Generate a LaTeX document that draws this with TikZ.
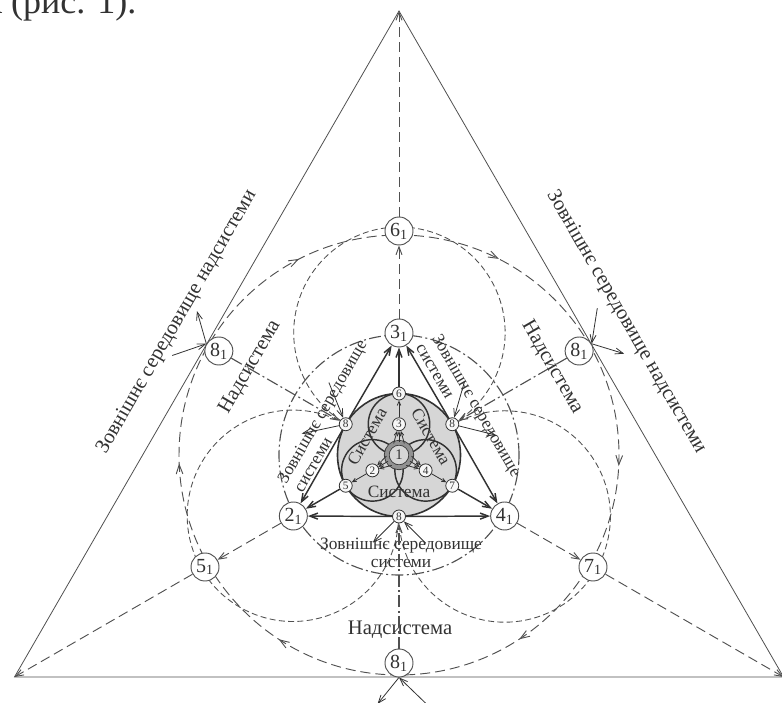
\documentclass[tikz,border=0pt]{standalone}
\usepackage{fontspec}
\setmainfont{Liberation Serif}
\usepackage{tikz}
\usetikzlibrary{arrows.meta, calc, backgrounds, decorations.markings}
\definecolor{inkgray}{RGB}{50, 50, 50}
\definecolor{linegray}{RGB}{80, 80, 80}
\definecolor{fillgray}{RGB}{214, 214, 214}
\definecolor{ringgray}{RGB}{145, 145, 145}

\begin{document}
\begin{tikzpicture}[
    x=0.75pt, y=0.75pt,
    thinline/.style={draw=linegray, line width=0.6pt},
    inkline/.style={draw=inkgray, line width=0.6pt},
    solidline/.style={draw=inkgray, line width=1.1pt},
    longdash/.style={draw=linegray, line width=0.7pt, dash pattern=on 7.5pt off 3.75pt},
    shortdash/.style={draw=linegray, line width=0.65pt, dash pattern=on 4.5pt off 2.5pt},
    dashdot/.style={draw=linegray, line width=0.85pt, dash pattern=on 9pt off 2.5pt on 1.5pt off 2.5pt},
    bar/.style={-{Straight Barb[length=6pt, width=4.5pt]}},
    tinybar/.style={-{Straight Barb[length=3pt, width=2.6pt]}},
    flow/.style={postaction={decorate}, decoration={markings,
        mark=at position 0.075 with {\arrow{Straight Barb[length=7pt, width=5pt]}},
        mark=at position 0.258 with {\arrow{Straight Barb[length=7pt, width=5pt]}},
        mark=at position 0.408 with {\arrow{Straight Barb[length=7pt, width=5pt]}},
        mark=at position 0.592 with {\arrow{Straight Barb[length=7pt, width=5pt]}},
        mark=at position 0.744 with {\arrow{Straight Barb[length=7pt, width=5pt]}},
        mark=at position 0.925 with {\arrow{Straight Barb[length=7pt, width=5pt]}}}},
    mainnode/.style={circle, draw=linegray, fill=white, minimum size=21pt, inner sep=0pt,
                     line width=0.7pt, text=inkgray, font=\fontsize{15}{15}\selectfont},
    subnode/.style={circle, draw=inkgray, fill=white!80!fillgray, minimum size=9.75pt,
                    inner sep=0pt, line width=0.6pt, text=inkgray, font=\fontsize{8.5}{8.5}\selectfont},
    corenode/.style={circle, draw=inkgray, double=ringgray, double distance=3pt, fill=fillgray,
                     minimum size=18.4pt, inner sep=0pt, line width=0.6pt, text=inkgray,
                     font=\fontsize{11}{11}\selectfont},
    biglabel/.style={text=inkgray, font=\fontsize{15.5}{18}\selectfont},
    midlabel/.style={text=inkgray, font=\fontsize{13}{14}\selectfont}
]
    \useasboundingbox (0,0) rectangle (782,703);
    \coordinate (O) at (399,248);
    \coordinate (ta) at ($(O)+(90:444)$);
    \coordinate (tl) at ($(O)+(210:444)$);
    \coordinate (tr) at ($(O)+(330:444)$);

    \node[anchor=base east, text=inkgray, font=\fontsize{27}{27}\selectfont] (caption) at (141,689) {к (рис. 1).};

    % outer ring of nodes
    \node[mainnode] (n61) at ($(O)+(90:224)$) {6\textsubscript{1}};
    \node[mainnode] (n51) at ($(O)+(210:224)$) {5\textsubscript{1}};
    \node[mainnode] (n71) at ($(O)+(330:224)$) {7\textsubscript{1}};
    \node[mainnode] (e8l) at ($(O)+(150:208)$) {8\textsubscript{1}};
    \node[mainnode] (e8r) at ($(O)+(30:208)$) {8\textsubscript{1}};
    \node[mainnode] (e8b) at ($(O)+(270:208)$) {8\textsubscript{1}};
    \node[mainnode] (n31) at ($(O)+(90:122)$) {3\textsubscript{1}};
    \node[mainnode] (n21) at ($(O)+(210:122)$) {2\textsubscript{1}};
    \node[mainnode] (n41) at ($(O)+(330:122)$) {4\textsubscript{1}};

    % system core
    \node[corenode] (s1) at (O) {1};
    \node[subnode] (s3) at ($(O)+(90:30.75)$) {3};
    \node[subnode] (s2) at ($(O)+(210:30.75)$) {2};
    \node[subnode] (s4) at ($(O)+(330:30.75)$) {4};
    \node[subnode] (s6) at ($(O)+(90:61.5)$) {6};
    \node[subnode] (s5) at ($(O)+(210:61.5)$) {5};
    \node[subnode] (s7) at ($(O)+(330:61.5)$) {7};
    \node[subnode] (i8l) at ($(O)+(150:61.5)$) {8};
    \node[subnode] (i8r) at ($(O)+(30:61.5)$) {8};
    \node[subnode] (i8b) at ($(O)+(270:61.5)$) {8};

    % labels
    \node[biglabel, rotate=60] (envl) at (177,381) {Зовнішнє середовище надсистеми};
    \node[biglabel, rotate=-60] (envr) at (626,381) {Зовнішнє середовище надсистеми};
    \node[biglabel, rotate=60] (supl) at (250,336) {Надсистема};
    \node[biglabel, rotate=-60] (supr) at (552,336) {Надсистема};
    \node[biglabel] (supb) at (400,73) {Надсистема};
    \node[midlabel, align=center] (sysenvb) at (401,150) {Зовнішнє середовище\\системи};
    \node[midlabel, align=left, rotate=60] (sysenvl) at (330,287) {Зовнішнє середовище\\системи};
    \node[midlabel, align=left, rotate=-60] (sysenvr) at (469,293) {Зовнішнє середовище\\системи};
    \node[midlabel, rotate=60] (sysl) at ($(O)+(150:37)$) {Система};
    \node[midlabel, rotate=-60] (sysr) at ($(O)+(30:37)$) {Система};
    \node[midlabel] (sysb) at ($(O)+(270:37)$) {Система};

    % free ends of the short arrows
    \coordinate (e8lin) at ($(e8l.150)+(199:36)$);
    \coordinate (e8lout) at ($(e8l.150)+(106:34)$);
    \coordinate (e8rin) at ($(e8r.30)+(81:36)$);
    \coordinate (e8rout) at ($(e8r.30)+(-17:34)$);
    \coordinate (e8bin) at ($(e8b.270)+(316:37)$);
    \coordinate (e8bout) at ($(e8b.270)+(231:34)$);
    \coordinate (i8lin) at ($(i8l)+(112:45)$);
    \coordinate (i8lout) at ($(i8l)+(192:45)$);
    \coordinate (i8rin) at ($(i8r)+(74:44)$);
    \coordinate (i8rout) at ($(i8r)+(-14:45)$);
    \coordinate (i8bin) at ($(i8b)+(315:38)$);
    \coordinate (i8bout) at ($(i8b)+(225:37)$);

    % connectors
    \draw[solidline, bar] (s6) -- (n31);
    \draw[solidline, bar] (s5) -- (n21);
    \draw[solidline, bar] (s7) -- (n41);
    \draw[solidline, bar] (i8l) -- (n31);
    \draw[solidline, bar] (i8l) -- (n21);
    \draw[solidline, bar] (i8r) -- (n31);
    \draw[solidline, bar] (i8r) -- (n41);
    \draw[solidline, bar] (i8b) -- (n21);
    \draw[solidline, bar] (i8b) -- (n41);

    \draw[inkline, tinybar] (s3) -- (s6);
    \draw[inkline, tinybar] (s2) -- (s5);
    \draw[inkline, tinybar] (s4) -- (s7);
    \foreach \a/\t in {65/s3, 90/s3, 115/s3, 185/s2, 210/s2, 235/s2, 305/s4, 330/s4, 355/s4}
        \draw[inkline, tinybar] (s1.\a) -- (\t);

    \draw[longdash, bar] (n31) -- (n61);
    \draw[longdash, bar] (n21) -- (n51);
    \draw[longdash, bar] (n41) -- (n71);
    \draw[longdash, bar] (n61) -- (ta);
    \draw[longdash, bar] (n51) -- (tl);
    \draw[longdash, bar] (n71) -- (tr);
    \draw[dashdot, bar] (e8l) -- (i8l);
    \draw[dashdot, bar] (e8r) -- (i8r);
    \draw[dashdot, bar] (e8b) -- (i8b);

    \draw[inkline, bar] (e8lin) -- (e8l.150);
    \draw[inkline, bar] (e8l.150) -- (e8lout);
    \draw[inkline, bar] (e8rin) -- (e8r.30);
    \draw[inkline, bar] (e8r.30) -- (e8rout);
    \draw[inkline, bar] (e8bin) -- (e8b.270);
    \draw[inkline, bar] (e8b.270) -- (e8bout);
    \draw[inkline, bar] (i8lin) -- (i8l);
    \draw[inkline, bar] (i8l) -- (i8lout);
    \draw[inkline, bar] (i8rin) -- (i8r);
    \draw[inkline, bar] (i8r) -- (i8rout);
    \draw[inkline, bar] (i8bin) -- (i8b);
    \draw[inkline, bar] (i8b) -- (i8bout);

    \begin{scope}[on background layer]
        \draw[thinline] (ta) -- (tl) -- (tr) -- cycle;
        \fill[fillgray] (O) circle[radius=61.5];
        \draw[draw=inkgray, line width=1.2pt] (O) circle[radius=61.5];
        \foreach \a in {90,210,330}
            \draw[draw=inkgray, line width=1.1pt] ($(O)+(\a:30.75)$) circle[radius=30.75];
        \draw[longdash, flow] ($(O)+(90:220)$) arc[start angle=450, end angle=90, radius=220];
        \draw[dashdot] (O) circle[radius=120];
        \draw[shortdash] ($(O)+(30:61.5)$) arc[start angle=-60, end angle=240, radius=105.7];
        \draw[shortdash] ($(O)+(150:61.5)$) arc[start angle=60, end angle=360, radius=105.7];
        \draw[shortdash] ($(O)+(270:61.5)$) arc[start angle=180, end angle=480, radius=105.7];
    \end{scope}
\end{tikzpicture}
\end{document}
